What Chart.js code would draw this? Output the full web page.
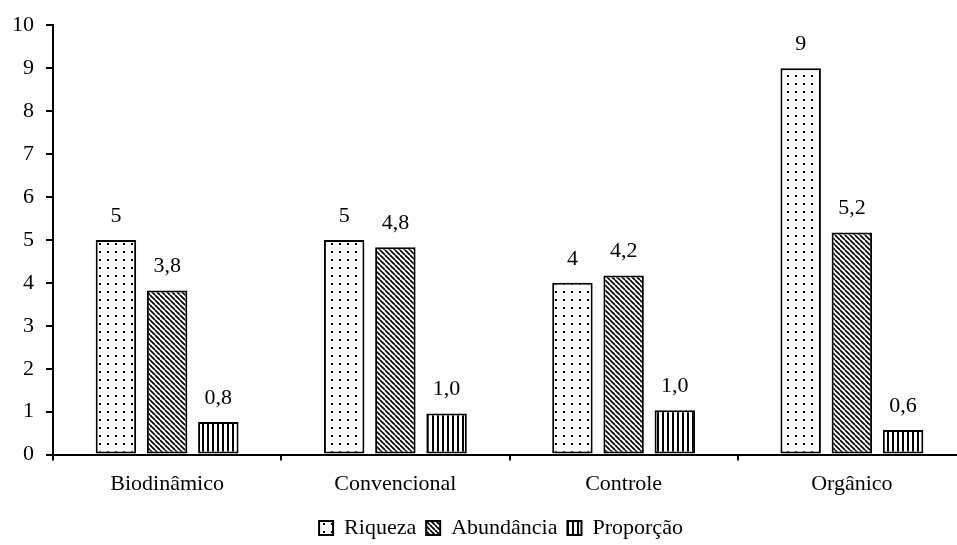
<!DOCTYPE html>
<html>
<head>
<meta charset="utf-8">
<script src="https://cdn.jsdelivr.net/npm/chart.js@4"></script>
<style>
  html, body { margin: 0; padding: 0; background: #fff; overflow: hidden; }
  #wrap { width: 1000px; height: 545px; position: relative; }
</style>
</head>
<body>
<div id="wrap"><canvas id="c"></canvas></div>
<script>
const categories = ["Biodinâmico", "Convencional", "Controle", "Orgânico"];
const riqueza = [5, 5, 4, 9];
const abundancia = [3.82, 4.83, 4.17, 5.17];
const proporcao = [0.76, 0.96, 1.03, 0.57];
const seriesNames = ["Riqueza", "Abundância", "Proporção"];
const labelDecimals = [0, 1, 1];
const yTicks = [0, 1, 2, 3, 4, 5, 6, 7, 8, 9, 10];

const FONT = "'Liberation Serif', 'Times New Roman', serif";

function makePattern(kind) {
  const t = document.createElement('canvas');
  const g = t.getContext('2d');
  if (kind === 'dots') {
    t.width = 8; t.height = 8;
    g.fillStyle = '#fff'; g.fillRect(0, 0, 8, 8);
    g.fillStyle = '#000'; g.fillRect(3, 3, 2, 2);
  } else if (kind === 'diag') {
    t.width = 5; t.height = 5;
    g.fillStyle = '#fff'; g.fillRect(0, 0, 5, 5);
    g.strokeStyle = '#000'; g.lineWidth = 1.7;
    for (const x0 of [-5, 0, 5]) {
      g.beginPath(); g.moveTo(x0, 0); g.lineTo(x0 + 5, 5); g.stroke();
    }
  } else {
    t.width = 5; t.height = 5;
    g.fillStyle = '#fff'; g.fillRect(0, 0, 5, 5);
    g.fillStyle = '#000'; g.fillRect(2, 0, 2, 5);
  }
  return g.createPattern(t, 'repeat');
}

const patterns = [makePattern('dots'), makePattern('diag'), makePattern('vert')];
const seriesData = [riqueza, abundancia, proporcao];

const valueLabels = {
  id: 'valueLabels',
  afterDatasetsDraw(chart) {
    const ctx = chart.ctx;
    ctx.save();
    ctx.font = "22px " + FONT;
    ctx.fillStyle = '#000';
    ctx.textAlign = 'center';
    ctx.textBaseline = 'middle';
    chart.data.datasets.forEach((ds, di) => {
      const meta = chart.getDatasetMeta(di);
      meta.data.forEach((el, i) => {
        const v = ds.data[i];
        const s = v.toFixed(labelDecimals[di]).replace('.', ',');
        ctx.fillText(s, el.x, el.y - 24);
      });
    });
    ctx.restore();
  }
};

const legendShift = {
  id: 'legendShift',
  afterLayout(chart) {
    const lg = chart.legend;
    if (lg) { lg.left += 18; lg.right += 18; }
  }
};

new Chart(document.getElementById('c'), {
  type: 'bar',
  data: {
    labels: categories,
    datasets: seriesData.map((d, i) => ({
      label: seriesNames[i],
      data: d,
      backgroundColor: patterns[i],
      borderColor: '#000',
      borderWidth: 2,
      borderSkipped: false,
      categoryPercentage: 0.673,
      barPercentage: 0.79
    }))
  },
  options: {
    responsive: true,
    maintainAspectRatio: false,
    animation: false,
    layout: { padding: { top: 14, right: 34, left: 0, bottom: -4 } },
    plugins: {
      tooltip: { enabled: false },
      legend: {
        position: 'bottom',
        labels: {
          font: { family: FONT, size: 22 },
          color: '#000',
          boxWidth: 14,
          boxHeight: 14,
          padding: 10
        }
      }
    },
    scales: {
      x: {
        grid: { display: true, drawOnChartArea: false, drawTicks: true, tickLength: 6, color: '#000', lineWidth: 2, offset: true },
        border: { display: true, color: '#000', width: 2 },
        ticks: { font: { family: FONT, size: 22 }, color: '#000', padding: 10 }
      },
      y: {
        min: 0, max: 10,
        afterBuildTicks(axis) { axis.ticks = yTicks.map(v => ({ value: v })); },
        grid: { display: true, drawOnChartArea: false, drawTicks: true, tickLength: 7, color: '#000', lineWidth: 2 },
        border: { display: true, color: '#000', width: 2 },
        ticks: { font: { family: FONT, size: 22 }, color: '#000', padding: 12 }
      }
    }
  },
  plugins: [valueLabels, legendShift]
});
</script>
</body>
</html>
